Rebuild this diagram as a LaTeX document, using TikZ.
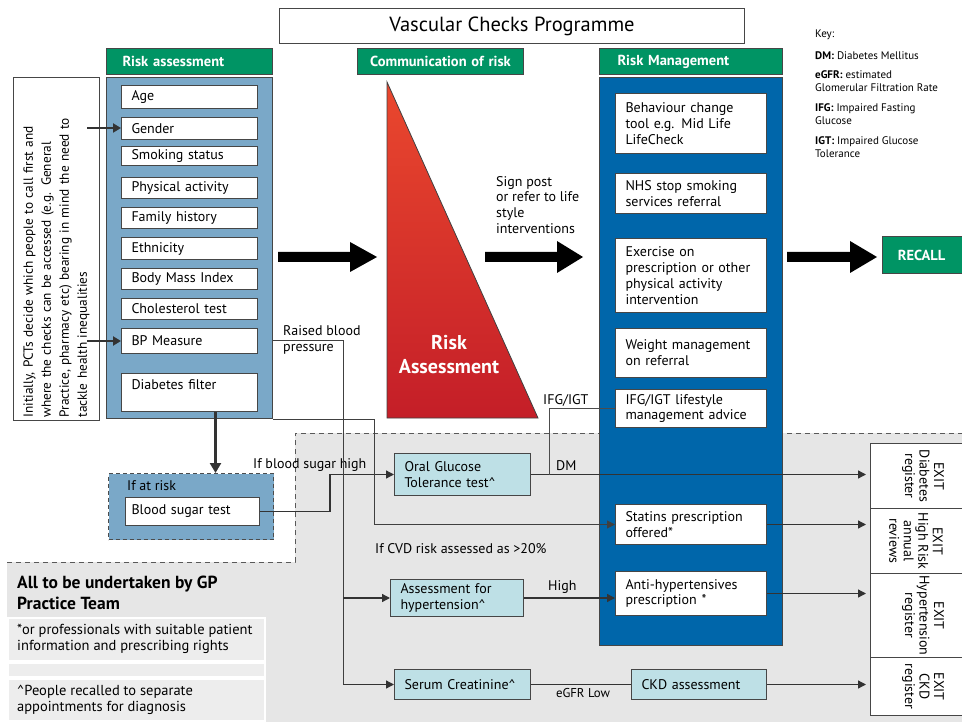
\documentclass[tikz,border=0pt]{standalone}
\usepackage{fontspec}
\setmainfont{PT Sans}
\usetikzlibrary{arrows.meta}
\definecolor{hdrgreen}{RGB}{0,148,100}
\definecolor{ltblue}{RGB}{122,168,200}
\definecolor{dkblue}{RGB}{0,102,170}
\definecolor{cyanbox}{RGB}{190,224,230}
\definecolor{bggray}{RGB}{230,230,230}
\definecolor{edge}{RGB}{70,70,70}
\definecolor{redtop}{RGB}{234,72,46}
\definecolor{redbot}{RGB}{196,30,40}
\newcommand\vfT{\fontsize{20.5}{24}\selectfont}
\newcommand\vfH{\fontsize{14.5}{17}\selectfont\bfseries}
\newcommand\vfB{\fontsize{14}{15.8}\selectfont}
\newcommand\vfK{\fontsize{11}{13}\selectfont}
\newcommand\vfL{\fontsize{13.3}{18}\selectfont}
\newcommand\vfX{\fontsize{14}{14.5}\selectfont}
\newcommand\vfR{\fontsize{20}{24}\selectfont\bfseries}
\newcommand\vfG{\fontsize{17.5}{21}\selectfont\bfseries}
\newcommand\vfS{\fontsize{12.8}{14}\selectfont}
\newcommand\vfN{\fontsize{14.5}{16}\selectfont}
\begin{document}
\begin{tikzpicture}[x=1pt,y=-1pt,
  panel/.style={draw=edge, line width=1pt, anchor=north west, inner sep=0pt},
  hdr/.style={draw=edge, line width=1pt, fill=hdrgreen, text=white, font=\vfH, anchor=north west, minimum height=26pt, inner ysep=0pt},
  rbox/.style={draw=edge, fill=white, line width=1pt, anchor=north west, inner xsep=10pt, inner ysep=0pt, align=left, font=\vfB},
  rmbox/.style={rbox, inner xsep=10pt, text width=131pt},
  cbox/.style={draw=edge, fill=cyanbox, line width=1pt, anchor=north west, inner xsep=10pt, inner ysep=0pt, align=left, font=\vfB},
  exitbox/.style={draw=edge, fill=white, line width=1pt, anchor=north west, minimum width=93pt, inner sep=0pt},
  exittext/.style={rotate=-90, align=center, font=\vfX, inner sep=0pt},
  lbl/.style={font=\vfB, align=left, anchor=west, inner sep=0pt},
  note/.style={draw=white, line width=1.5pt, fill=black!7, anchor=north west, minimum width=257pt, inner sep=0pt},
  conn/.style={draw=black!80, line width=1.3pt},
  arr/.style={conn, -{Triangle[length=8pt,width=8pt]}},
  exarr/.style={arr, shorten >=4pt},
  dashline/.style={draw=black!65, line width=1pt, dash pattern=on 5pt off 4pt}
]
\useasboundingbox (0,0) rectangle (962,722);

% grey region of the GP practice team
\fill[bggray] (295,433) -- (962,433) -- (962,722) -- (7,722) -- (7,562) -- (295,562) -- cycle;
\draw[dashline] (7,562) -- (295,562) -- (295,433) -- (962,433);

% notes bottom left
\node[lbl, font=\vfG] (gpteam) at (17,593) {All to be undertaken by GP\\Practice Team};
\node[note, minimum height=43pt] (note1) at (7,617) {};
\node[lbl, font=\vfN] (note1t) at ([xshift=10pt]note1.west) {*or professionals with suitable patient\\information and prescribing rights};
\node[note, minimum height=14pt] (note2) at (7,662) {};
\node[note, minimum height=42pt] (note3) at (7,678) {};
\node[lbl, font=\vfN] (note3t) at ([xshift=10pt]note3.west) {\textasciicircum People recalled to separate\\appointments for diagnosis};

% title
\node[draw=edge, line width=1pt, fill=white, anchor=north west, minimum width=465pt, minimum height=35pt, inner sep=0pt, font=\vfT] (title) at (279,8) {Vascular Checks Programme};

% key
\node[font=\vfK, anchor=west, inner sep=0pt] (key) at (815,35) {Key:};
\node[font=\vfK, anchor=west, inner sep=0pt] (keydm) at (815,56) {\textbf{DM:} Diabetes Mellitus};
\node[font=\vfK, anchor=west, align=left, inner sep=0pt] (keyegfr) at (815,81) {\textbf{eGFR:} estimated\\Glomerular Filtration Rate};
\node[font=\vfK, anchor=west, align=left, inner sep=0pt] (keyifg) at (815,114) {\textbf{IFG:} Impaired Fasting\\Glucose};
\node[font=\vfK, anchor=west, align=left, inner sep=0pt] (keyigt) at (815,147) {\textbf{IGT:} Impaired Glucose\\Tolerance};

% headers
\node[hdr, inner xsep=16pt, text width=134pt, align=left] (hra) at (106,48) {Risk assessment};
\node[hdr, inner xsep=4pt, text width=158pt, align=center] (hcom) at (357,48) {Communication of risk};
\node[hdr, inner xsep=18pt, text width=147pt, align=left] (hrm) at (599,48) {Risk Management};

% intro text box
\node[draw=edge, line width=1pt, fill=white, anchor=north west, minimum width=86pt, minimum height=343pt, inner sep=0pt] (intro) at (13,77) {};
\node[rotate=90, text width=337pt, align=left, font=\vfL, inner sep=0pt] (introt) at (intro.center) {Initially, PCTs decide which people to call first and\\where the checks can be accessed (e.g. General\\Practice, pharmacy etc) bearing in mind the need to\\tackle health inequalities};

% risk assessment panel
\node[panel, fill=ltblue, minimum width=166pt, minimum height=341pt] (ra) at (106,77) {};
\node[rbox, text width=116pt, minimum height=23pt] (age) at (121,85) {Age};
\node[rbox, text width=116pt, minimum height=22pt] (gender) at (121,117) {Gender};
\node[rbox, text width=116pt, minimum height=19pt] (smoke) at (121,146) {Smoking status};
\node[rbox, text width=116pt, minimum height=21pt] (phys) at (121,177) {Physical activity};
\node[rbox, text width=116pt, minimum height=21pt] (family) at (121,207) {Family history};
\node[rbox, text width=116pt, minimum height=22pt] (ethn) at (121,237) {Ethnicity};
\node[rbox, text width=116pt, minimum height=21pt] (bmi) at (121,268) {Body Mass Index};
\node[rbox, text width=116pt, minimum height=21pt] (chol) at (121,298) {Cholesterol test};
\node[rbox, text width=116pt, minimum height=25pt] (bp) at (121,328) {BP Measure};
\node[rbox, text width=116pt, minimum height=38pt] (diab) at (121,373) {Diabetes filter\\\mbox{}};

% arrows from intro box
\coordinate (g0) at (87,128);
\coordinate (b0) at (87,341);
\draw[conn, line width=2pt, -{Triangle[length=8pt,width=9pt]}] (g0) -- (g0 -| gender.west);
\draw[conn, line width=2pt, -{Triangle[length=8pt,width=9pt]}] (b0) -- (b0 -| bp.west);

% communication of risk triangle
\path[draw=black!75, line width=0.8pt, top color=redtop, bottom color=redbot] (387,82) -- (538,418) -- (387,418) -- cycle;
\node[font=\vfR, text=white, align=center, inner sep=0pt] (riskA) at (449,355) {Risk\\Assessment};

% big arrows
\fill[black] (278,252) -- (350,252) -- (350,242) -- (377,257) -- (350,272) -- (350,262) -- (278,262) -- cycle;
\fill[black] (485,252) -- (557,252) -- (557,241) -- (583,257) -- (557,273) -- (557,262) -- (485,262) -- cycle;
\fill[black] (787,252) -- (850,252) -- (850,241) -- (877,257) -- (850,273) -- (850,262) -- (787,262) -- cycle;
\node[lbl] (signpost) at (496,205) {Sign post\\or refer to life\\style\\interventions};

% recall
\node[draw=edge, line width=1pt, fill=hdrgreen, text=white, font=\vfH, anchor=north west, minimum width=82pt, minimum height=37pt, inner sep=0pt] (recall) at (882,236) {\hspace*{-2pt}RECALL\hspace*{2pt}};

% risk management panel
\node[panel, fill=dkblue, minimum width=183pt, minimum height=568pt] (rm) at (599,77) {};
\node[rmbox, minimum height=60pt] (beh) at (615,93) {Behaviour change\\tool e.g. Mid Life\\LifeCheck};
\node[rmbox, minimum height=40pt] (nhs) at (615,173) {NHS stop smoking\\services referral};
\node[rmbox, minimum height=74pt] (exer) at (615,238) {Exercise on\\prescription or other\\physical activity\\intervention};
\node[rmbox, minimum height=49pt] (weight) at (615,328) {Weight management\\on referral\\[4pt]};
\node[rmbox, minimum height=38pt] (ifg) at (615,389) {IFG/IGT lifestyle\\management advice};
\node[rmbox, minimum height=40pt] (statins) at (615,504) {Statins prescription\\offered*};
\node[rmbox, minimum height=44pt] (anti) at (615,571) {Anti-hypertensives\\prescription *};

% if at risk
\node[panel, fill=ltblue, draw=black!70, line width=1.2pt, dash pattern=on 4pt off 3pt, minimum width=165pt, minimum height=66pt] (atrisk) at (108,473) {};
\node[lbl] (atriskt) at (127,486) {If at risk};
\node[rbox, inner xsep=6pt, text width=122pt, minimum height=28pt] (bst) at (125,497) {\raisebox{-3pt}{Blood sugar test}};
\draw[conn, line width=3.2pt, -{Triangle[length=10pt,width=11pt]}] ([xshift=26pt]diab.south) -- ([xshift=26pt]diab.south |- atrisk.north);

% diagnosis boxes
\node[cbox, text width=116pt, minimum height=42pt] (ogtt) at (394,453) {Oral Glucose\\Tolerance test\textasciicircum};
\node[cbox, text width=113pt, minimum height=37pt] (assess) at (390,579) {Assessment for\\hypertension\textasciicircum};
\node[cbox, text width=116pt, minimum height=30pt] (serum) at (394,669) {Serum Creatinine\textasciicircum};
\node[cbox, text width=115pt, minimum height=30pt] (ckd) at (631,669) {CKD assessment};

% exits
\node[exitbox, minimum height=65pt] (ex1) at (870,443) {};
\node[exittext] (ex1t) at ([xshift=6pt]ex1.center) {EXIT\\Diabetes\\register};
\node[exitbox, minimum height=65pt] (ex2) at (870,508) {};
\node[exittext] (ex2t) at ([xshift=-1pt]ex2.center) {EXIT\\High Risk\\annual\\reviews};
\node[exitbox, minimum height=84pt] (ex3) at (870,573) {};
\node[exittext] (ex3t) at ([xshift=6pt]ex3.center) {EXIT\\Hypertension\\register};
\node[exitbox, minimum height=58pt] (ex4) at (870,657) {};
\node[exittext] (ex4t) at ([xshift=6pt]ex4.center) {EXIT\\CKD\\register};

% connectors
\coordinate (bsx) at (330,0);
\draw[arr] (bst.east) -- (bsx |- bst.east) -- (bsx |- ogtt.west) -- (ogtt.west);
\node[lbl] (bshigh) at (253,465) {If blood sugar high};

\draw[exarr] (ogtt.east) -- (ogtt.east -| ex1.west);
\node[lbl] (dm) at (556,466) {DM};
\coordinate (ifx) at (549,0);
\draw[conn, draw=black!70, line width=1pt] (ifx |- ogtt.east) -- (ifx |- ifg.west) -- (ifg.west);
\node[lbl] (ifglbl) at (543,400) {IFG/IGT};

\coordinate (bpx) at (343,0);
\draw[conn, draw=black!75, line width=1pt] (ra.east |- bp.east) -- (bpx |- bp.east) -- (bpx |- serum.west);
\draw[arr] (bpx |- serum.west) -- (serum.west);
\draw[arr] (bpx |- assess.west) -- (assess.west);
\node[lbl, align=left] (raised) at (283,340) {Raised blood\\pressure};

\coordinate (stx) at (374,0);
\draw[arr, draw=black!75, line width=1pt] (ra.south east) -- (stx |- ra.south east) -- (stx |- statins.west) -- (statins.west);
\node[lbl] (cvd) at (375,549) {If CVD risk assessed as >20\%};

\draw[exarr] (statins.east) -- (statins.east -| ex2.west);
\draw[arr] (assess.east) -- (assess.east -| anti.west);
\node[lbl] (high) at (548,587) {High};
\draw[exarr] (anti.east) -- (anti.east -| ex3.west);
\draw[conn] (serum.east) -- (ckd.west);
\node[font=\vfS, inner sep=0pt] (egfr) at (583,693) {eGFR Low};
\draw[exarr] (ckd.east) -- (ckd.east -| ex4.west);
\end{tikzpicture}
\end{document}
